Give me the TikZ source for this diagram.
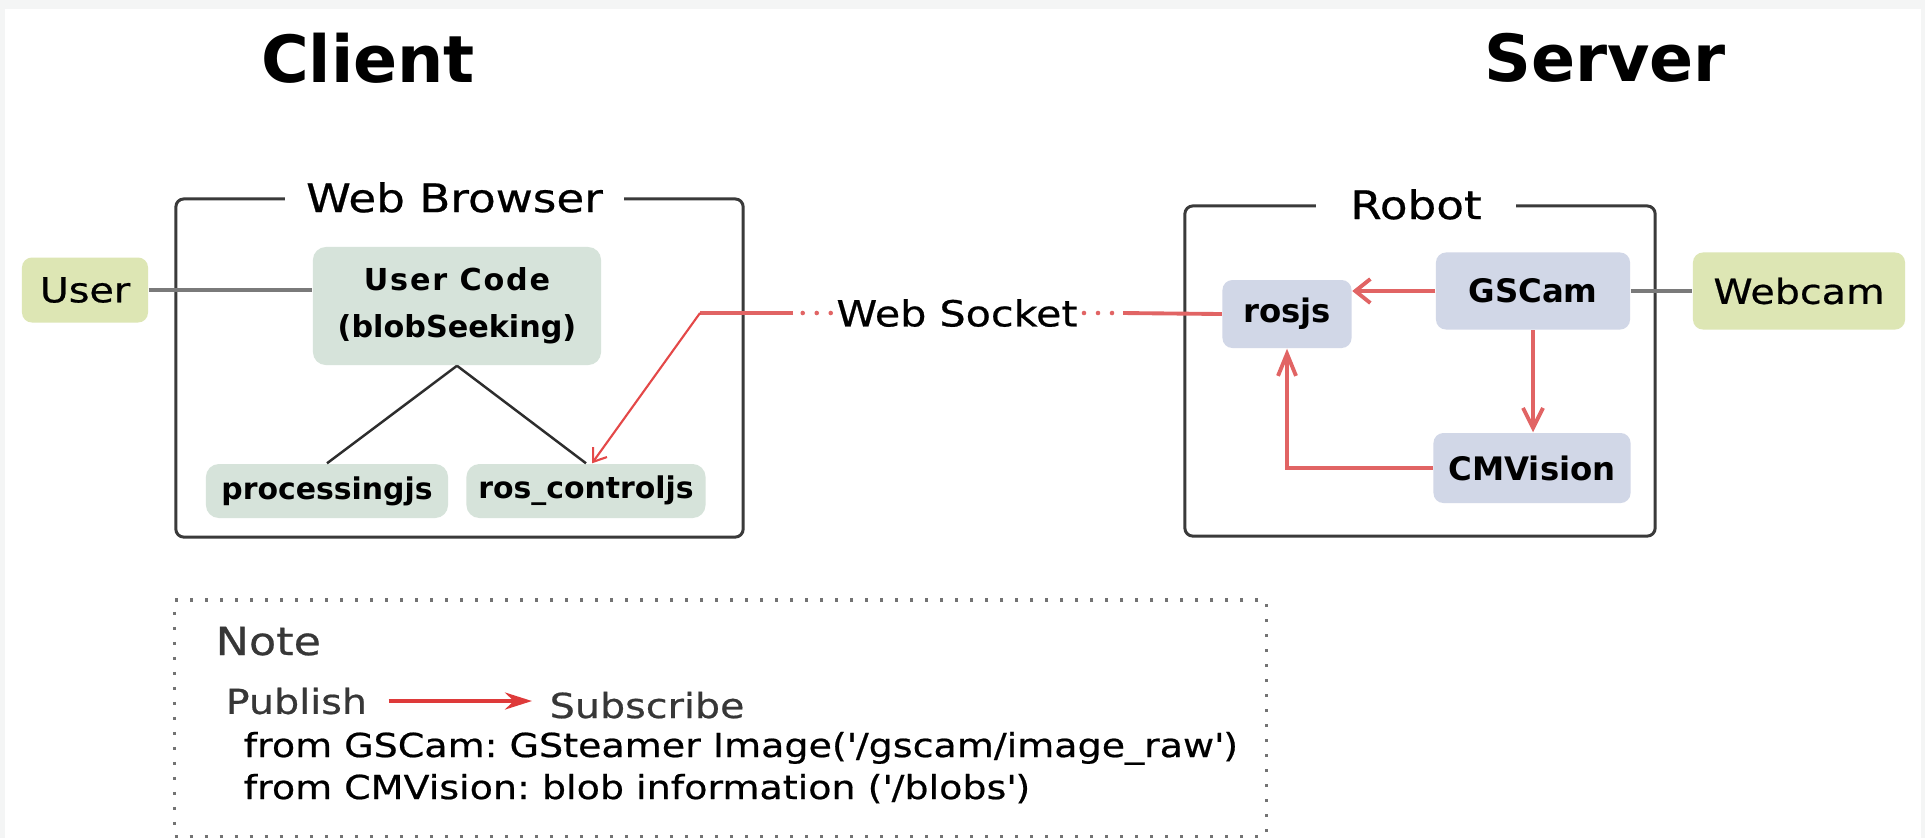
\documentclass[tikz,border=0pt]{standalone}
\usepackage{fontspec}
\setmainfont{DejaVu Sans}
\newfontfamily\widefont[FakeStretch=1.15,FakeBold=0.6]{DejaVu Sans}
\usetikzlibrary{arrows.meta}
\definecolor{bggray}{RGB}{244,245,245}
\definecolor{frameclr}{RGB}{58,58,58}
\definecolor{connclr}{RGB}{122,122,122}
\definecolor{kidclr}{RGB}{45,45,45}
\definecolor{extfill}{RGB}{221,230,180}
\definecolor{brfill}{RGB}{214,227,218}
\definecolor{robfill}{RGB}{209,215,231}
\definecolor{redclr}{RGB}{225,100,100}
\definecolor{redthin}{RGB}{228,72,72}
\definecolor{pubred}{RGB}{222,58,58}
\definecolor{notegray}{RGB}{55,55,55}
\definecolor{dotclr}{RGB}{115,115,115}
\frenchspacing

\begin{document}
\begin{tikzpicture}[x=0.01cm,y=-0.01cm,
  frame/.style={draw=frameclr,line width=0.85pt,rounded corners=0.08cm,inner sep=0pt},
  ftitle/.style={fill=white,inner sep=0pt,minimum height=0.36cm,font=\widefont\fontsize{11.2}{13}\selectfont},
  ext/.style={fill=extfill,rounded corners=0.1cm,inner sep=0pt,minimum height=0.65cm,font=\widefont\fontsize{9.8}{12}\selectfont},
  brnode/.style={fill=brfill,rounded corners=0.13cm,inner sep=0pt,minimum height=0.54cm,font=\bfseries\fontsize{8.5}{10}\selectfont},
  robnode/.style={fill=robfill,rounded corners=0.1cm,inner sep=0pt,font=\bfseries\fontsize{9.2}{11}\selectfont},
  side/.style={font=\bfseries\fontsize{18.5}{22}\selectfont},
  conn/.style={draw=connclr,line width=1.1pt},
  kid/.style={draw=kidclr,line width=0.7pt},
  msg/.style={draw=redclr,line width=1.1pt},
  msgdots/.style={draw=redclr,line width=1.3pt,line cap=round,dash pattern=on 0pt off 0.14cm},
  notetxt/.style={inner sep=0pt,anchor=base west,font=\widefont\fontsize{9.4}{11}\selectfont}]
\fill[bggray] (0,0) rectangle (1925,838);
\fill[white] (5,9) rectangle (1921,838);
\useasboundingbox (0,0) rectangle (1925,838);

\node[side] (client) at (368,58) {Client};
\node[side] (server) at (1605,58) {Server};

\node[frame,minimum width=5.67cm,minimum height=3.38cm] (browser) at (459.5,368) {};
\node[ftitle,minimum width=3.39cm] (browsertitle) at ([xshift=-0.05cm]browser.north) {Web Browser};
\node[frame,minimum width=4.7cm,minimum height=3.3cm] (robot) at (1420,371) {};
\node[ftitle,minimum width=2cm] (robottitle) at ([xshift=-0.04cm]robot.north) {Robot};

\node[ext,minimum width=1.26cm] (user) at (85,290) {User};
\node[ext,minimum width=2.12cm,minimum height=0.77cm] (webcam) at (1799,291) {Webcam};
\node[brnode,minimum width=2.88cm,minimum height=1.18cm,align=center,font=\bfseries\fontsize{8.6}{12.8}\selectfont] (ucode) at (457,306) {\addfontfeature{LetterSpace=6}User Code\\[0.6pt](blobSeeking)};
\node[brnode,minimum width=2.42cm] (proc) at (327,491) {processingjs};
\node[brnode,minimum width=2.39cm] (rosctl) at (586,491) {ros\textunderscore controljs};
\node[robnode,minimum width=1.29cm,minimum height=0.68cm] (rosjs) at (1287,314) {rosjs};
\node[robnode,minimum width=1.94cm,minimum height=0.77cm] (gscam) at (1533,291) {GSCam};
\node[robnode,minimum width=1.97cm,minimum height=0.7cm] (cmv) at (1532,468) {CMVision};
\node[inner sep=0pt,font=\widefont\fontsize{10.2}{12}\selectfont] (ws) at (957,313) {Web Socket};

\draw[conn] (user.east) -- (user.east -| ucode.west);
\draw[conn] (gscam.east) -- (webcam.west);
\draw[kid] (ucode.south) -- (proc.north);
\draw[kid] (ucode.south) -- (rosctl.north);

\coordinate (wsr) at (1123,313);
\coordinate (wsl) at (793,313);
\coordinate (bend) at (700,313);
\draw[msg] (rosjs.west) -- (wsr);
\draw[msgdots] ([xshift=-0.11cm]wsr) -- ([xshift=0.05cm]ws.east);
\draw[msgdots] ([xshift=-0.05cm]ws.west) -- (wsl);
\draw[msg] (wsl) -- (bend);
\draw[draw=redthin,line width=0.6pt,-{Straight Barb[length=0.12cm,width=0.17cm]}] (bend) -- ([xshift=0.06cm]rosctl.north);

\draw[msg,-{Straight Barb[length=0.15cm,width=0.24cm]}] (gscam.west) -- (gscam.west -| rosjs.east);
\draw[msg,-{Straight Barb[length=0.2cm,width=0.2cm]}] (gscam.south) -- (gscam.south |- cmv.north);
\draw[msg,-{Straight Barb[length=0.22cm,width=0.18cm]}] (cmv.west) -| (rosjs.south);

\node[draw=dotclr,line width=0.9pt,dash pattern=on 0.03cm off 0.12cm,minimum width=10.91cm,minimum height=2.36cm,inner sep=0pt] (note) at (720.5,718) {};
\node[notetxt,text=notegray,font=\widefont\fontsize{11}{13}\selectfont] (notetitle) at (215,655) {Note};
\node[notetxt,text=notegray,font=\widefont\fontsize{9.8}{12}\selectfont,anchor=west] (pub) at (225,701) {Publish};
\node[notetxt,text=notegray,font=\widefont\fontsize{9.8}{12}\selectfont] (sub) at (549,718) {Subscribe};
\coordinate (subtip) at (532,701);
\draw[draw=pubred,line width=1.1pt,-{Stealth[length=0.27cm,width=0.17cm]}] ([xshift=0.21cm]pub.east) -- (subtip);
\node[notetxt] (fromgs) at (243,757) {from GSCam: GSteamer Image(\textquotesingle/gscam/image\textunderscore raw\textquotesingle)};
\node[notetxt] (fromcmv) at (243,799) {from CMVision: blob information (\textquotesingle/blobs\textquotesingle)};
\end{tikzpicture}
\end{document}
